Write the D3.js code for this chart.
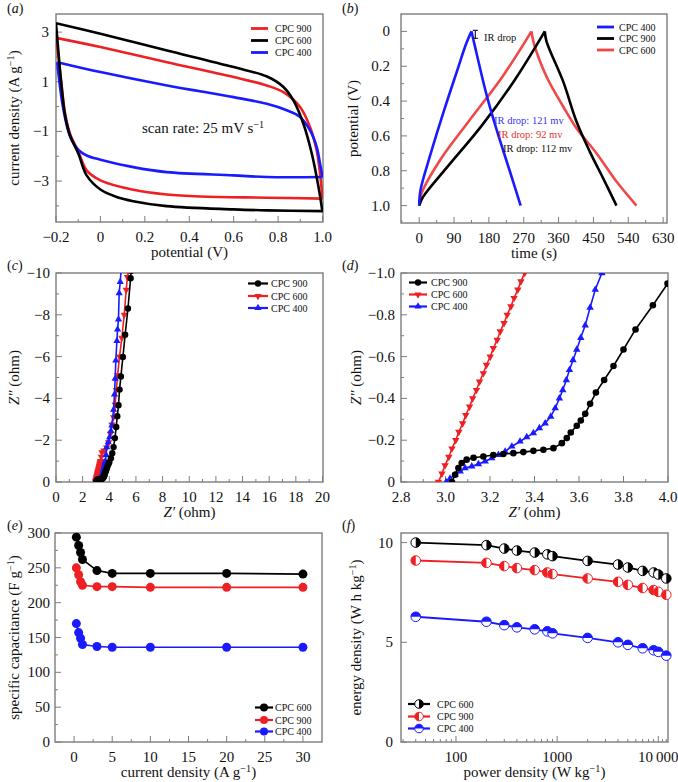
<!DOCTYPE html>
<html><head><meta charset="utf-8">
<script src="https://cdn.jsdelivr.net/npm/d3@7"></script>
<style>body{margin:0;background:#fff}svg{display:block}text{font-family:"Liberation Serif","Times New Roman",serif;fill:#111}</style>
</head><body><svg id="chart" width="678" height="782"></svg>
<script>
// ---------- DATA ----------
// (a) cyclic voltammetry, 25 mV/s  [potential V, current A/g]
const cv600Up = [[-0.2,3.36],[0,2.93],[0.3,2.26],[0.6,1.59],[0.75,1.21],[0.824,0.79],[0.869,0.25],[0.914,-0.69],[0.952,-1.9],[0.982,-3.24],[1.0,-4.25]];
const cv600Down = [[1.0,-4.21],[0.749,-4.18],[0.599,-4.14],[0.298,-4.01],[0.148,-3.81],[0.073,-3.64],[0,-3.34],[-0.062,-2.77],[-0.099,-1.9],[-0.137,-1.16],[-0.159,-0.36],[-0.174,0.72],[-0.189,2.19],[-0.2,3.36]];
const cv900Up = [[-0.2,2.77],[0,2.40],[0.3,1.79],[0.6,1.19],[0.749,0.85],[0.824,0.58],[0.899,-0.02],[0.944,-0.83],[0.974,-1.77],[0.989,-2.70],[1.0,-3.71]];
const cv900Down = [[1.0,-3.71],[0.749,-3.67],[0.449,-3.62],[0.298,-3.54],[0.148,-3.35],[0,-2.97],[-0.062,-2.57],[-0.099,-1.83],[-0.137,-1.09],[-0.159,-0.29],[-0.174,0.79],[-0.189,1.99],[-0.2,2.77]];
const cv400Up = [[-0.194,1.79],[0,1.39],[0.3,0.85],[0.6,0.38],[0.749,0.11],[0.839,-0.15],[0.899,-0.42],[0.944,-0.96],[0.974,-1.63],[0.989,-2.30],[1.0,-2.84]];
const cv400Down = [[1.0,-2.84],[0.749,-2.84],[0.599,-2.77],[0.298,-2.64],[0.148,-2.44],[0,-2.14],[-0.062,-1.97],[-0.099,-1.75],[-0.137,-1.2],[-0.167,-0.1],[-0.189,1.32],[-0.194,1.79]];

// (b) galvanostatic charge/discharge [time s, potential V]
const gcd400Charge = [[0,1.0],[3.4,0.91],[27.5,0.718],[62,0.469],[96,0.239],[122,0.067],[135,0]];
const gcd400Discharge = [[135,0],[141,0.057],[173.5,0.36],[199.3,0.56],[233.7,0.80],[262,1.0]];
const gcd900Charge = [[0,1.0],[10,0.95],[70,0.785],[160,0.545],[245,0.285],[324.4,0]];
const gcd900Discharge = [[324.4,0],[328.7,0.057],[371.8,0.287],[406.2,0.517],[440.6,0.690],[475,0.843],[509.5,1.0]];
const gcd600Charge = [[0,1.0],[6,0.93],[55,0.735],[130,0.51],[215,0.26],[290,0]];
const gcd600Discharge = [[290,0],[296,0.067],[328.7,0.259],[371.8,0.431],[406.2,0.556],[457.8,0.699],[509.5,0.862],[561.2,1.0]];

// (c)/(d) Nyquist [Z' ohm, Z'' ohm]
const eis900 = [[3.029,0],[3.043,-0.035],[3.058,-0.067],[3.073,-0.091],[3.095,-0.107],[3.126,-0.116],[3.170,-0.122],[3.215,-0.129],[3.260,-0.134],[3.305,-0.138],[3.350,-0.143],[3.395,-0.149],[3.440,-0.154],[3.485,-0.162],[3.523,-0.186],[3.545,-0.210],[3.563,-0.237],[3.590,-0.269],[3.608,-0.294],[3.628,-0.326],[3.650,-0.374],[3.676,-0.428],[3.713,-0.488],[3.755,-0.555],[3.800,-0.634],[3.854,-0.730],[3.932,-0.846],[3.998,-0.949],[4.12,-1.14],[4.22,-1.38],[4.32,-1.67],[4.42,-2.10],[4.52,-2.63],[4.60,-3.15],[4.69,-3.67],[4.77,-4.42],[4.87,-5.05],[5.02,-5.98],[5.19,-7.05],[5.40,-8.30],[5.60,-9.75],[5.64,-10.1]];
const eis600 = [[2.968,0],[2.984,-0.04],[2.998,-0.08],[3.015,-0.12],[3.029,-0.16],[3.046,-0.20],[3.060,-0.24],[3.077,-0.28],[3.091,-0.32],[3.108,-0.36],[3.122,-0.40],[3.139,-0.44],[3.153,-0.48],[3.170,-0.52],[3.184,-0.56],[3.201,-0.60],[3.215,-0.64],[3.232,-0.68],[3.246,-0.72],[3.263,-0.76],[3.277,-0.80],[3.294,-0.84],[3.308,-0.88],[3.325,-0.92],[3.339,-0.96],[3.356,-1.0],[3.40,-1.2],[3.45,-1.42],[3.6,-1.5],[3.8,-1.65],[3.95,-1.9],[4.08,-2.3],[4.2,-2.75],[4.32,-3.1],[4.44,-3.7],[4.53,-4.4],[4.62,-5.1],[4.77,-6.0],[4.94,-6.9],[5.12,-8.0],[5.27,-9.2],[5.36,-9.8],[5.42,-10.1]];
const eis400 = [[3.003,0],[3.02,-0.016],[3.043,-0.035],[3.066,-0.051],[3.088,-0.067],[3.118,-0.075],[3.148,-0.086],[3.178,-0.099],[3.208,-0.114],[3.238,-0.130],[3.268,-0.146],[3.298,-0.170],[3.335,-0.194],[3.365,-0.215],[3.395,-0.234],[3.422,-0.258],[3.448,-0.281],[3.473,-0.313],[3.493,-0.353],[3.512,-0.40],[3.527,-0.44],[3.543,-0.488],[3.557,-0.536],[3.573,-0.583],[3.59,-0.634],[3.608,-0.69],[3.628,-0.75],[3.65,-0.835],[3.673,-0.92],[3.703,-1.0],[3.76,-1.3],[3.81,-1.67],[3.92,-1.9],[4.02,-2.15],[4.12,-2.45],[4.19,-2.71],[4.32,-3.46],[4.39,-4.19],[4.44,-4.94],[4.49,-5.82],[4.57,-6.75],[4.62,-7.3],[4.69,-7.78],[4.74,-9.04],[4.82,-9.57],[4.88,-10.1]];

// (e) specific capacitance vs current density
const currentDensity = [0.3, 0.6, 0.85, 1.1, 3, 5, 10, 20, 30];
const cap600 = [294, 282, 272, 262, 246, 242, 242, 242, 241];
const cap900 = [250, 240, 230, 225, 223, 223, 222, 222, 222];
const cap400 = [170, 157, 149, 140, 137, 136, 136, 136, 136];

// (f) Ragone
const powerDensity = [40, 200, 300, 400, 600, 800, 900, 2000, 4000, 5000, 7000, 9000, 10000, 12000];
const energy600 = [10.0, 9.87, 9.7, 9.6, 9.5, 9.41, 9.32, 9.08, 8.9, 8.75, 8.58, 8.5, 8.4, 8.2];
const energy900 = [9.1, 8.98, 8.82, 8.72, 8.62, 8.5, 8.42, 8.2, 8.03, 7.88, 7.72, 7.62, 7.53, 7.38];
const energy400 = [6.28, 6.03, 5.86, 5.75, 5.65, 5.55, 5.45, 5.22, 5.0, 4.87, 4.7, 4.6, 4.52, 4.33];

// tick labels
const aXTicks = [-0.2,0,0.2,0.4,0.6,0.8,1.0], aXLabels = ["\u22120.2","0","0.2","0.4","0.6","0.8","1.0"];
const aYTicks = [3,1,-1,-3], aYLabels = ["3","1","\u22121","\u22123"];
const bXTicks = [0,90,180,270,360,450,540,630], bXLabels = ["0","90","180","270","360","450","540","630"];
const bYTicks = [0,0.2,0.4,0.6,0.8,1.0], bYLabels = ["0","0.2","0.4","0.6","0.8","1.0"];
const cXTicks = [0,2,4,6,8,10,12,14,16,18,20], cXLabels = cXTicks.map(String);
const cYTicks = [-10,-8,-6,-4,-2,0], cYLabels = ["\u221210","\u22128","\u22126","\u22124","\u22122","0"];
const dXTicks = [2.8,3.0,3.2,3.4,3.6,3.8,4.0], dXLabels = ["2.8","3.0","3.2","3.4","3.6","3.8","4.0"];
const dYTicks = [-1.0,-0.8,-0.6,-0.4,-0.2,0], dYLabels = ["\u22121.0","\u22120.8","\u22120.6","\u22120.4","\u22120.2","0"];
const eXTicks = [0,5,10,15,20,25,30], eXLabels = eXTicks.map(String);
const eYTicks = [0,50,100,150,200,250,300], eYLabels = eYTicks.map(String);
const fXTicks = [100,1000,10000], fXLabels = ["100","1000","10\u2009000"];
const fYTicks = [0,5,10], fYLabels = ["0","5","10"];

// ---------- DRAWING ----------
const svg = d3.select("#chart");
const GREY = "#7d7d7d";
const RED = "#ee2024", BLUE = "#1a1aff", BLACK = "#000", LRED = "#f04848";
const defs = svg.append("defs");

function rich(t, segs) {
  segs.forEach(s => {
    if (typeof s === "string") t.append("tspan").text(s);
    else if (s.sup) t.append("tspan").attr("baseline-shift", "super").attr("font-size", "0.68em").text(s.sup);
    else if (s.it) t.append("tspan").attr("font-style", "italic").text(s.it);
  });
  return t;
}

function frameAxes(box, x, y, ax) {
  const [x0, y0, x1, y1] = box;
  const g = svg.append("g");
  const tick = (vals, len, isX) => g.append("g").selectAll("line").data(vals).join("line")
    .attr("x1", d => isX ? x(d) : x0).attr("x2", d => isX ? x(d) : x0 + len)
    .attr("y1", d => isX ? y1 : y(d)).attr("y2", d => isX ? y1 - len : y(d))
    .attr("stroke", GREY).attr("stroke-width", 1);
  tick(ax.xMinor, 3, true); tick(ax.xMajor, 6, true);
  tick(ax.yMinor, 3, false); tick(ax.yMajor, 6, false);
  g.append("g").selectAll("text").data(ax.xMajor).join("text")
    .attr("x", d => x(d)).attr("y", y1 + 20).attr("text-anchor", "middle").attr("font-size", 15)
    .text((d, i) => ax.xLabels[i]);
  g.append("g").selectAll("text").data(ax.yMajor).join("text")
    .attr("x", x0 - ax.yGap).attr("y", d => y(d) + 5).attr("text-anchor", "end").attr("font-size", 15)
    .text((d, i) => ax.yLabels[i]);
  g.append("rect").attr("x", x0).attr("y", y0).attr("width", x1 - x0).attr("height", y1 - y0)
    .attr("fill", "none").attr("stroke", GREY).attr("stroke-width", 1.4);
  rich(g.append("text").attr("x", (x0 + x1) / 2).attr("y", y1 + 35).attr("text-anchor", "middle").attr("font-size", 15), ax.xTitle);
  rich(g.append("text").attr("transform", `translate(${ax.yTitleX},${(y0 + y1) / 2}) rotate(-90)`).attr("text-anchor", "middle").attr("font-size", 15), ax.yTitle);
  return g;
}

function panelLetter(x, y, l) {
  const t = svg.append("text").attr("x", x).attr("y", y).attr("font-size", 14);
  t.append("tspan").text("(");
  t.append("tspan").attr("font-style", "italic").text(l);
  t.append("tspan").text(")");
}

function clipFor(id, box) {
  defs.append("clipPath").attr("id", id).append("rect")
    .attr("x", box[0]).attr("y", box[1]).attr("width", box[2] - box[0]).attr("height", box[3] - box[1]);
  return svg.append("g").attr("clip-path", `url(#${id})`);
}

function mk(g, type, cx, cy, color, s) {
  if (type === "circle") g.append("circle").attr("cx", cx).attr("cy", cy).attr("r", s).attr("fill", color);
  else {
    g.append("path").attr("d", d3.symbol(d3.symbolTriangle, s * s * 2.2)())
      .attr("transform", `translate(${cx},${cy})` + (type === "down" ? " rotate(180)" : ""))
      .attr("fill", color);
  }
}

function halfMarker(g, cx, cy, r, color, half) {
  const gg = g.append("g").attr("transform", `translate(${cx},${cy})`);
  gg.append("circle").attr("r", r).attr("fill", "#fff").attr("stroke", color).attr("stroke-width", 1);
  let d;
  if (half === "right") d = `M0,${-r}A${r},${r} 0 0 1 0,${r}Z`;
  else if (half === "left") d = `M0,${-r}A${r},${r} 0 0 0 0,${r}Z`;
  else d = `M${-r},0A${r},${r} 0 0 1 ${r},0Z`;
  gg.append("path").attr("d", d).attr("fill", color);
}

function legend(items, lx1, lx2, tx, ys, lw, drawMarker) {
  const g = svg.append("g");
  items.forEach((it, i) => {
    g.append("line").attr("x1", lx1).attr("x2", lx2).attr("y1", ys[i]).attr("y2", ys[i])
      .attr("stroke", it.color).attr("stroke-width", lw);
    if (drawMarker) drawMarker(g, it, (lx1 + lx2) / 2, ys[i]);
    g.append("text").attr("x", tx).attr("y", ys[i] + 3.5).attr("font-size", 10).text(it.name);
  });
}

// ===== (a) =====
{
  const box = [56, 14, 323, 222];
  const x = d3.scaleLinear().domain([-0.2, 1.0]).range([56, 322.5]);
  const y = d3.scaleLinear().domain([-4.65, 3.73]).range([222, 14]);
  frameAxes(box, x, y, {
    xMajor: aXTicks, xLabels: aXLabels, xMinor: d3.range(-0.1, 1.0, 0.2),
    yMajor: aYTicks, yLabels: aYLabels, yMinor: [2, 0, -2, -4], yGap: 7,
    xTitle: ["potential (V)"], yTitle: ["current density (A g", {sup: "\u22121"}, ")"], yTitleX: 19
  });
  panelLetter(7, 13, "a");
  const g = clipFor("clipA", box);
  const line = d3.line().x(d => x(d[0])).y(d => y(d[1])).curve(d3.curveCatmullRom.alpha(0.5));
  [[cv900Up, cv900Down, RED], [cv400Up, cv400Down, BLUE], [cv600Up, cv600Down, BLACK]].forEach(([u, dn, c]) => {
    g.append("path").attr("d", line(u)).attr("fill", "none").attr("stroke", c).attr("stroke-width", 2.6);
    g.append("path").attr("d", line(dn)).attr("fill", "none").attr("stroke", c).attr("stroke-width", 2.6);
  });
  rich(svg.append("text").attr("x", 142).attr("y", 133).attr("font-size", 15), ["scan rate: 25 mV s", {sup: "\u22121"}]);
  legend([{name: "CPC 900", color: RED}, {name: "CPC 600", color: BLACK}, {name: "CPC 400", color: BLUE}],
    251, 268, 275, [28.5, 40.5, 52.5], 2.8);
}

// ===== (b) =====
{
  const box = [401, 14, 667, 223];
  const x = d3.scaleLinear().domain([-47, 640]).range([401, 667]);
  const y = d3.scaleLinear().domain([-0.1, 1.1]).range([14, 223]);
  frameAxes(box, x, y, {
    xMajor: bXTicks, xLabels: bXLabels, xMinor: d3.range(-45, 640, 90),
    yMajor: bYTicks, yLabels: bYLabels, yMinor: [0.1, 0.3, 0.5, 0.7, 0.9], yGap: 11,
    xTitle: ["time (s)"], yTitle: ["potential (V)"], yTitleX: 358
  });
  panelLetter(342, 13, "b");
  const g = clipFor("clipB", box);
  const line = d3.line().x(d => x(d[0])).y(d => y(d[1])).curve(d3.curveCatmullRom.alpha(0.5));
  [[gcd600Charge, gcd600Discharge, LRED], [gcd900Charge, gcd900Discharge, BLACK], [gcd400Charge, gcd400Discharge, BLUE]].forEach(([c1, c2, c]) => {
    g.append("path").attr("d", line(c1)).attr("fill", "none").attr("stroke", c).attr("stroke-width", 2.6);
    g.append("path").attr("d", line(c2)).attr("fill", "none").attr("stroke", c).attr("stroke-width", 2.6);
  });
  const ix = x(145), iy0 = y(0) - 1, iy1 = y(0.04);
  svg.append("path").attr("d", `M${ix - 2.5},${iy0}H${ix + 2.5}M${ix},${iy0}V${iy1}M${ix - 2.5},${iy1}H${ix + 2.5}`)
    .attr("stroke", "#222").attr("stroke-width", 1.2).attr("fill", "none");
  svg.append("text").attr("x", 484).attr("y", 41).attr("font-size", 10.5).text("IR drop");
  svg.append("text").attr("x", 494).attr("y", 123.5).attr("font-size", 10.5).style("fill", "#3535f0").text("IR drop: 121 mv");
  svg.append("text").attr("x", 498).attr("y", 138).attr("font-size", 10.5).style("fill", "#e33030").text("IR drop: 92 mv");
  svg.append("text").attr("x", 503).attr("y", 152).attr("font-size", 10.5).style("fill", "#111").text("IR drop: 112 mv");
  legend([{name: "CPC 400", color: BLUE}, {name: "CPC 900", color: BLACK}, {name: "CPC 600", color: LRED}],
    597, 614, 619, [27, 38.5, 50], 2.8);
}

// ===== (c) & (d) =====
const eisSeries = [
  {name: "CPC 900", data: eis900, color: BLACK, type: "circle"},
  {name: "CPC 600", data: eis600, color: RED, type: "down"},
  {name: "CPC 400", data: eis400, color: BLUE, type: "up"}
];
function nyquist(box, x, y, id, ms) {
  const g = clipFor(id, box);
  const line = d3.line().x(d => x(d[0])).y(d => y(d[1]));
  [eisSeries[1], eisSeries[2], eisSeries[0]].forEach(s => {
    g.append("path").attr("d", line(s.data)).attr("fill", "none").attr("stroke", s.color).attr("stroke-width", 1.6);
    s.data.forEach(d => mk(g, s.type, x(d[0]), y(d[1]), s.color, ms));
  });
}
{
  const box = [56, 273, 323, 482];
  const x = d3.scaleLinear().domain([0, 20]).range([56, 322.5]);
  const y = d3.scaleLinear().domain([0, -10]).range([482, 273]);
  frameAxes(box, x, y, {
    xMajor: cXTicks, xLabels: cXLabels, xMinor: d3.range(1, 20, 2),
    yMajor: cYTicks, yLabels: cYLabels, yMinor: [-9, -7, -5, -3, -1], yGap: 6,
    xTitle: [{it: "Z\u2032"}, " (ohm)"], yTitle: [{it: "Z\u2033"}, " (ohm)"], yTitleX: 19
  });
  panelLetter(7, 270, "c");
  nyquist(box, x, y, "clipC", 3.2);
  legend(eisSeries, 248, 268, 271, [283.5, 296, 308], 2.2, (g, it, cx, cy) => mk(g, it.type, cx, cy, it.color, 3.2));
}
{
  const box = [401, 273, 668, 482];
  const x = d3.scaleLinear().domain([2.8, 4.0]).range([401, 668]);
  const y = d3.scaleLinear().domain([0, -1]).range([482, 273]);
  frameAxes(box, x, y, {
    xMajor: dXTicks, xLabels: dXLabels, xMinor: [2.9, 3.1, 3.3, 3.5, 3.7, 3.9],
    yMajor: dYTicks, yLabels: dYLabels, yMinor: [-0.9, -0.7, -0.5, -0.3, -0.1], yGap: 6,
    xTitle: [{it: "Z\u2032"}, " (ohm)"], yTitle: [{it: "Z\u2033"}, " (ohm)"], yTitleX: 361
  });
  panelLetter(342, 270, "d");
  nyquist(box, x, y, "clipD", 3.3);
  legend(eisSeries, 409, 427, 431, [282.5, 294.5, 306.5], 2.2, (g, it, cx, cy) => mk(g, it.type, cx, cy, it.color, 3.2));
}

// ===== (e) =====
{
  const box = [55, 533, 322, 742];
  const x = d3.scaleLinear().domain([-2.5, 32.5]).range([55, 322]);
  const y = d3.scaleLinear().domain([0, 300]).range([742, 533]);
  frameAxes(box, x, y, {
    xMajor: eXTicks, xLabels: eXLabels, xMinor: [2.5, 7.5, 12.5, 17.5, 22.5, 27.5],
    yMajor: eYTicks, yLabels: eYLabels, yMinor: [25, 75, 125, 175, 225, 275], yGap: 5,
    xTitle: ["current density (A g", {sup: "\u22121"}, ")"], yTitle: ["specific capacitance (F g", {sup: "\u22121"}, ")"], yTitleX: 19
  });
  panelLetter(7, 530, "e");
  const series = [{name: "CPC 600", v: cap600, color: BLACK}, {name: "CPC 900", v: cap900, color: RED}, {name: "CPC 400", v: cap400, color: BLUE}];
  const line = d3.line().x((d, i) => x(currentDensity[i])).y(d => y(d));
  series.forEach(s => {
    svg.append("path").attr("d", line(s.v)).attr("fill", "none").attr("stroke", s.color).attr("stroke-width", 1.6);
    s.v.forEach((v, i) => mk(svg, "circle", x(currentDensity[i]), y(v), s.color, 4.5));
  });
  legend(series, 255, 273, 275, [707.5, 720, 731.5], 2.2, (g, it, cx, cy) => mk(g, "circle", cx, cy, it.color, 4));
}

// ===== (f) =====
{
  const box = [401, 533, 668, 742];
  const x = d3.scaleLog().domain([28.6, 12470]).range([401, 668]);
  const y = d3.scaleLinear().domain([0, 10.48]).range([742, 533]);
  const minor = [30,40,50,60,70,80,90,200,300,400,500,600,700,800,900,2000,3000,4000,5000,6000,7000,8000,9000,11000,12000];
  frameAxes(box, x, y, {
    xMajor: fXTicks, xLabels: fXLabels, xMinor: minor,
    yMajor: fYTicks, yLabels: fYLabels, yMinor: [], yGap: 8,
    xTitle: ["power density (W kg", {sup: "\u22121"}, ")"], yTitle: ["energy density (W h kg", {sup: "\u22121"}, ")"], yTitleX: 361
  });
  panelLetter(342, 530, "f");
  const series = [{name: "CPC 600", v: energy600, color: BLACK, half: "right"},
                  {name: "CPC 900", v: energy900, color: RED, half: "left"},
                  {name: "CPC 400", v: energy400, color: BLUE, half: "top"}];
  const line = d3.line().x((d, i) => x(powerDensity[i])).y(d => y(d));
  series.forEach(s => {
    svg.append("path").attr("d", line(s.v)).attr("fill", "none").attr("stroke", s.color).attr("stroke-width", 1.8);
    s.v.forEach((v, i) => halfMarker(svg, x(powerDensity[i]), y(v), 4.8, s.color, s.half));
  });
  legend(series, 408, 430, 437, [704, 716.5, 728.5], 2.2, (g, it, cx, cy) => halfMarker(g, cx, cy, 4.3, it.color, it.half));
}
</script></body></html>
